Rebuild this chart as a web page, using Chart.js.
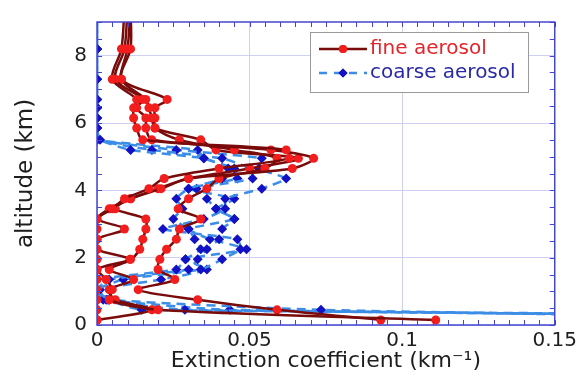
<!DOCTYPE html>
<html>
<head>
<meta charset="utf-8">
<script src="https://cdn.jsdelivr.net/npm/chart.js@4.4.1/dist/chart.umd.min.js"></script>
<style>
  html, body { margin: 0; padding: 0; background: #fff; }
</style>
</head>
<body>
<canvas id="aerosolChart" width="581" height="377"></canvas>
<script>
// Altitude levels (km) shared by all profiles
const altitudes = [0.15, 0.45, 0.75, 1.05, 1.35, 1.65, 1.95, 2.25, 2.55, 2.85, 3.15, 3.45, 3.75,
                   4.05, 4.35, 4.65, 4.95, 5.2, 5.5, 5.85, 6.15, 6.45, 6.7, 7.3, 8.2, 9.4];

// Fine aerosol extinction profiles (km-1)
const fine1 = [0, 0, 0, 0, 0, 0, 0, 0, 0, 0, 0, 0.005, 0.009,
               0.017, 0.022, 0.040, 0.063, 0.062, 0.015, 0.013, 0.012, 0.012, 0.013, 0.005, 0.008, 0.009];
const fine2 = [0.111, 0.020, 0.004, 0.005, 0.003, 0, 0.011, 0.014, 0.015, 0.016, 0.016, 0.006, 0.011,
               0.021, 0.030, 0.064, 0.071, 0.057, 0.018, 0.016, 0.016, 0.013, 0.015, 0.006, 0.009, 0.010];
const fine3 = [0.093, 0.059, 0.033, 0.0135, 0.0255, 0.020, 0.0206, 0.0228, 0.026, 0.027, 0.034, 0.0266, 0.030,
               0.036, 0.040, 0.055, 0.059, 0.045, 0.027, 0.019, 0.018, 0.017, 0.016, 0.008, 0.010, 0.011];
const fine4 = [0, 0.018, 0.006, 0.004, 0.012, 0.004, 0.0108, 0, 0, 0.009, 0, 0.004, 0.011,
               0.020, 0.030, 0.050, 0.066, 0.039, 0.034, 0.019, 0.019, 0.019, 0.023, 0.008, 0.011, 0.011];

// Coarse aerosol extinction profiles (km-1)
const coarse1 = [0.26, 0.0734, 0.004, 0, 0, 0.026, 0.029, 0.034, 0.032, 0.030, 0.025, 0.028, 0.026,
                 0.030, 0.041, 0.043, 0.035, 0.011, 0.001, 0, 0, 0, 0, 0, 0, 0];
const coarse2 = [0.50, 0.0146, 0.0036, 0, 0.004, 0.030, 0.033, 0.036, 0.040, 0.041, 0.045, 0.039, 0.036,
                 0.0326, 0.051, 0.050, 0.041, 0.018, 0, 0, 0, 0, 0, 0, 0, 0];
const coarse3 = [0.40, 0.0288, 0.002, 0, 0.0086, 0.034, 0.041, 0.047, 0.046, 0.0216, 0.035, 0.042, 0.042,
                 0.054, 0.062, 0.053, 0.054, 0.026, 0, 0, 0, 0, 0, 0, 0, 0];
const coarse4 = [0.35, 0.0435, 0.003, 0.001, 0.021, 0.036, 0.029, 0.049, 0.037, 0.030, 0.045, 0.039, 0.045,
                 0.030, 0.046, 0.045, 0.035, 0.033, 0, 0, 0, 0, 0, 0, 0, 0];

const fineProfiles = [fine1, fine2, fine3, fine4];
const coarseProfiles = [coarse1, coarse2, coarse3, coarse4];
const legendLabels = ['fine aerosol', 'coarse aerosol'];

const FONT = "'DejaVu Sans', sans-serif";
const fineLine = '#7a0b0b', fineDot = '#f21d1d';
const coarseLine = '#3b8de6', coarseDot = '#1212c4';
const frameColor = '#4545d0', gridColor = '#cfcff2';

// Turn a values array into {x, y} points
function profile(values) {
    return values.map((v, i) => ({ x: v, y: altitudes[i] }));
}

const datasets = [];
fineProfiles.forEach(p => datasets.push({
    data: profile(p), showLine: true, tension: 0.3,
    borderColor: fineLine, borderWidth: 2.5,
    pointStyle: 'circle', pointRadius: 4.5, pointBackgroundColor: fineDot, pointBorderWidth: 0
}));
coarseProfiles.forEach(p => datasets.push({
    data: profile(p), showLine: true, tension: 0.15,
    borderColor: coarseLine, borderWidth: 2.5, borderDash: [9, 6],
    pointStyle: 'rectRot', pointRadius: 5, pointBackgroundColor: coarseDot, pointBorderWidth: 0
}));

const isMultiple = (v, step) => Math.abs(v / step - Math.round(v / step)) < 1e-6;

// Frame with inward ticks on all four sides
const frameTicks = {
    id: 'frameTicks',
    afterDatasetsDraw(chart) {
        const { ctx, chartArea: a, scales: { x, y } } = chart;
        ctx.save();
        ctx.strokeStyle = frameColor;
        ctx.lineWidth = 1;
        x.ticks.forEach(t => {
            const px = Math.round(x.getPixelForValue(t.value)) + 0.5;
            ctx.beginPath();
            ctx.moveTo(px, a.bottom); ctx.lineTo(px, a.bottom - 5);
            ctx.moveTo(px, a.top); ctx.lineTo(px, a.top + 5);
            ctx.stroke();
        });
        y.ticks.forEach(t => {
            const py = Math.round(y.getPixelForValue(t.value)) + 0.5;
            ctx.beginPath();
            ctx.moveTo(a.left, py); ctx.lineTo(a.left + 5, py);
            ctx.moveTo(a.right, py); ctx.lineTo(a.right - 5, py);
            ctx.stroke();
        });
        ctx.lineWidth = 1.5;
        ctx.strokeRect(a.left, a.top, a.right - a.left, a.bottom - a.top);
        ctx.restore();
    }
};

// Legend box: line with marker, coloured text
const profileLegend = {
    id: 'profileLegend',
    afterDraw(chart) {
        const ctx = chart.ctx;
        const box = { left: 310, top: 32, width: 218, height: 60 };
        ctx.save();
        ctx.fillStyle = '#fff';
        ctx.fillRect(box.left, box.top, box.width, box.height);
        ctx.strokeStyle = '#9a9a9a';
        ctx.lineWidth = 1;
        ctx.strokeRect(box.left + 0.5, box.top + 0.5, box.width, box.height);

        const rows = [
            { y: 49, line: fineLine, dot: fineDot, style: 'circle', r: 4, dash: [], text: '#e3262b' },
            { y: 73, line: coarseLine, dot: coarseDot, style: 'rectRot', r: 4.5, dash: [8, 7], text: '#2a2aa6' }
        ];
        rows.forEach((r, i) => {
            ctx.strokeStyle = r.line;
            ctx.lineWidth = 2.5;
            ctx.setLineDash(r.dash);
            ctx.beginPath();
            ctx.moveTo(319, r.y); ctx.lineTo(367, r.y);
            ctx.stroke();
            ctx.setLineDash([]);
            ctx.fillStyle = r.dot;
            Chart.helpers.drawPoint(ctx, { pointStyle: r.style, radius: r.r, borderWidth: 0 }, 343, r.y);
            ctx.fill();
            ctx.fillStyle = r.text;
            ctx.font = '20px ' + FONT;
            ctx.textBaseline = 'middle';
            ctx.fillText(legendLabels[i], 370, r.y);
        });
        ctx.restore();
    }
};

const ctx = document.getElementById('aerosolChart').getContext('2d');
new Chart(ctx, {
    type: 'scatter',
    data: { datasets },
    options: {
        responsive: false,
        animation: false,
        layout: { padding: { top: 14, right: 25, left: 0, bottom: 0 } },
        plugins: { legend: { display: false }, tooltip: { enabled: false } },
        scales: {
            x: {
                type: 'linear', min: 0, max: 0.15,
                afterFit: s => { s.height = 52; },
                ticks: {
                    stepSize: 0.005, autoSkip: false, maxRotation: 0, padding: 4,
                    color: '#1e1e1e', font: { family: FONT, size: 20 },
                    callback: v => isMultiple(v, 0.05) ? String(Math.round(v * 100) / 100) : ''
                },
                grid: {
                    drawTicks: false,
                    color: c => (c.tick && isMultiple(c.tick.value, 0.05)) ? gridColor : 'rgba(0,0,0,0)'
                },
                border: { display: false },
                title: {
                    display: true, text: 'Extinction coefficient (km⁻¹)', color: '#1e1e1e',
                    font: { family: FONT, size: 22 }, padding: { top: 0, bottom: 3 }
                }
            },
            y: {
                type: 'linear', min: 0, max: 9,
                afterFit: s => { s.width = 97; },
                ticks: {
                    stepSize: 0.5, autoSkip: false, padding: 10,
                    color: '#1e1e1e', font: { family: FONT, size: 20 },
                    callback: v => isMultiple(v, 2) ? String(v) : ''
                },
                grid: {
                    drawTicks: false,
                    color: c => (c.tick && isMultiple(c.tick.value, 2)) ? gridColor : 'rgba(0,0,0,0)'
                },
                border: { display: false },
                title: {
                    display: true, text: 'altitude (km)', color: '#1e1e1e',
                    font: { family: FONT, size: 23 }, padding: { top: 12, bottom: 0 }
                }
            }
        }
    },
    plugins: [frameTicks, profileLegend]
});
</script>
</body>
</html>
